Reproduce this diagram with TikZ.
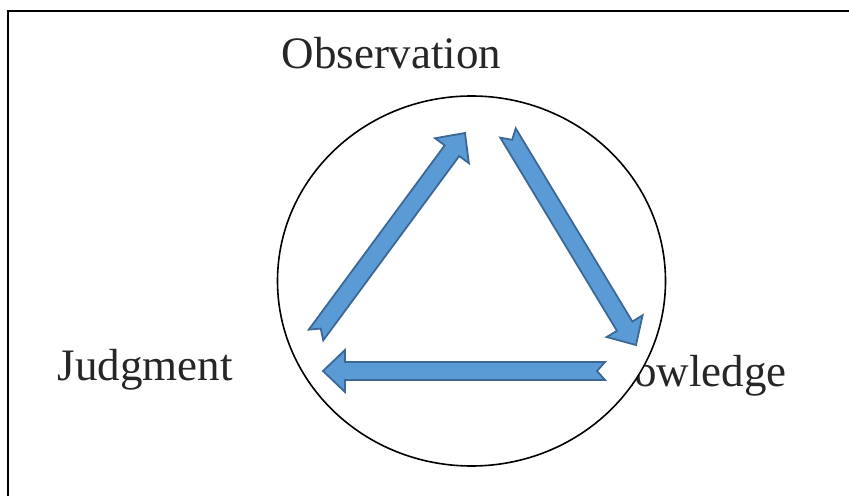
\documentclass[tikz,border=0pt]{standalone}
\usepackage{fontspec}
\setmainfont{Liberation Serif}
\usetikzlibrary{calc,shapes.geometric}
\definecolor{arrfill}{RGB}{91,155,213}
\definecolor{arrline}{RGB}{60,104,150}
\newlength\sw \setlength\sw{9pt}
\newlength\hw \setlength\hw{21pt}
\newlength\hl \setlength\hl{22pt}
\newlength\nd \setlength\nd{8pt}
\newcommand\blockarrow[2]{%
  \coordinate (hb) at ($(#2)!\hl!(#1)$);
  \coordinate (nt) at ($(#1)!\nd!(#2)$);
  \draw[barrow] ($(#1)!\sw!90:(#2)$) -- ($(hb)!\sw!90:(#2)$) -- ($(hb)!\hw!90:(#2)$)
    -- (#2) -- ($(hb)!\hw!-90:(#2)$) -- ($(hb)!\sw!-90:(#2)$) -- ($(#1)!\sw!-90:(#2)$)
    -- (nt) -- cycle;
}
\tikzset{
  barrow/.style={fill=arrfill, draw=arrline, line width=1.8pt, line join=miter},
  lbl/.style={font=\fontsize{45}{54}\selectfont, inner sep=0pt, text=black!85},
  frameline/.style={line width=2pt, draw=black}
}
\begin{document}
\begin{tikzpicture}[x=1pt,y=1pt]
\useasboundingbox (0,0) rectangle (849,496);
\fill[white] (0,0) rectangle (849,496);
\draw[frameline] (8,0) -- (8,485) -- (849,485);
\node[lbl, anchor=base east] (know) at (787,110) {Knowledge};
\node[ellipse, draw=black, fill=white, line width=1.6pt, minimum width=388pt, minimum height=370pt, inner sep=0pt] (cyc) at (471.5,215) {};
\node[lbl, anchor=base] (obs) at (391.5,427) {Observation};
\node[lbl, anchor=base] (judg) at (145,116) {Judgment};
\coordinate (a1t) at (316,161);
\coordinate (a1h) at (465,363);
\coordinate (a2t) at (508,363);
\coordinate (a2h) at (636,151);
\coordinate (a3t) at (605,125);
\coordinate (a3h) at (323,125);
\blockarrow{a1t}{a1h}
\blockarrow{a2t}{a2h}
\blockarrow{a3t}{a3h}
\end{tikzpicture}
\end{document}
